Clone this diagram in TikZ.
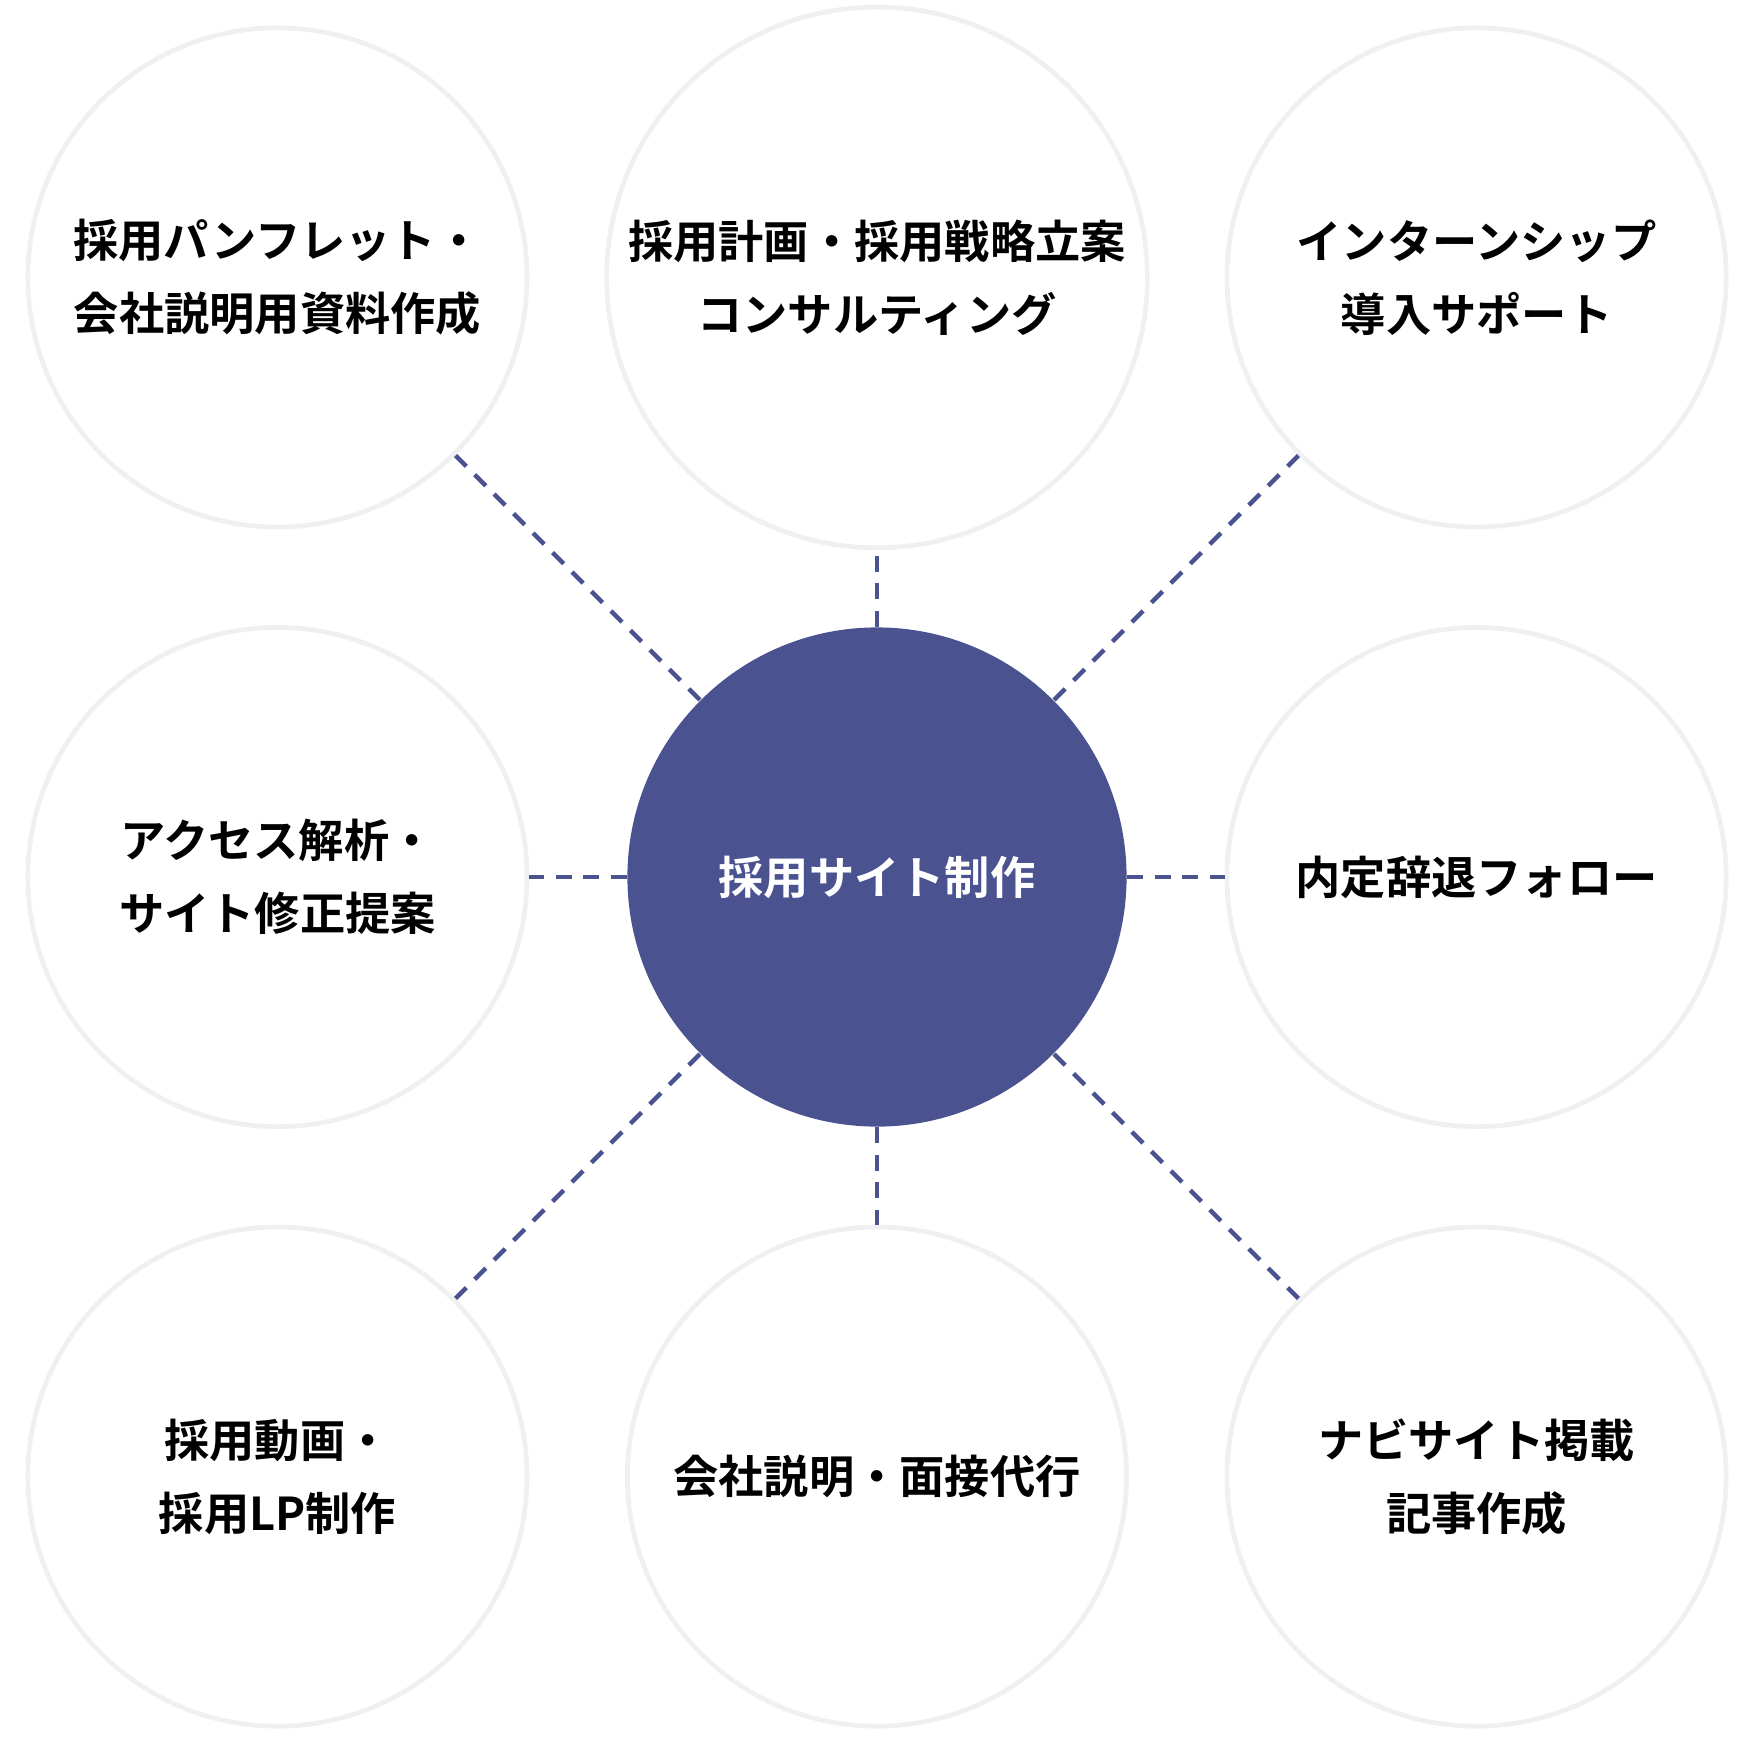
\documentclass[tikz,border=0pt]{standalone}
\usepackage{fontspec}
\setmainfont{Noto Sans CJK JP Bold}
\definecolor{hubblue}{HTML}{4A5290}
\begin{document}
\begin{tikzpicture}[x=0.01cm, y=-0.01cm]
	\tikzset{
	    snode/.style= {circle, draw=black!6, line width=1.2pt, fill=white, minimum width=4.46cm, align=center, font=\fontsize{11.5}{18.5}\selectfont},
	    hub/.style= {circle, fill=hubblue, text=white, minimum width=4.46cm, align=center, font=\fontsize{11.5}{18.5}\selectfont},
	    link/.style= {dashed, hubblue, line width=1.1pt, dash pattern=on 4pt off 3pt},
	}
	\useasboundingbox (0,0) rectangle (1568,1568);

	\node[hub] (site) at (784, 784) {採用サイト制作};

	\node[snode] (pamph) at (248, 248) {採用パンフレット・\\会社説明用資料作成};
	\node[snode] (plan) at (784, 248) {採用計画・採用戦略立案\\コンサルティング};
	\node[snode] (intern) at (1320, 248) {インターンシップ\\導入サポート};
	\node[snode] (access) at (248, 784) {アクセス解析・\\サイト修正提案};
	\node[snode] (follow) at (1320, 784) {内定辞退フォロー};
	\node[snode] (movie) at (248, 1320) {採用動画・\\採用LP制作};
	\node[snode] (agent) at (784, 1320) {会社説明・面接代行};
	\node[snode] (navi) at (1320, 1320) {ナビサイト掲載\\記事作成};

	\foreach \s in {pamph, plan, intern, access, follow, movie, agent, navi}
	    \draw[link] (site) -- (\s);
\end{tikzpicture}
\end{document}
